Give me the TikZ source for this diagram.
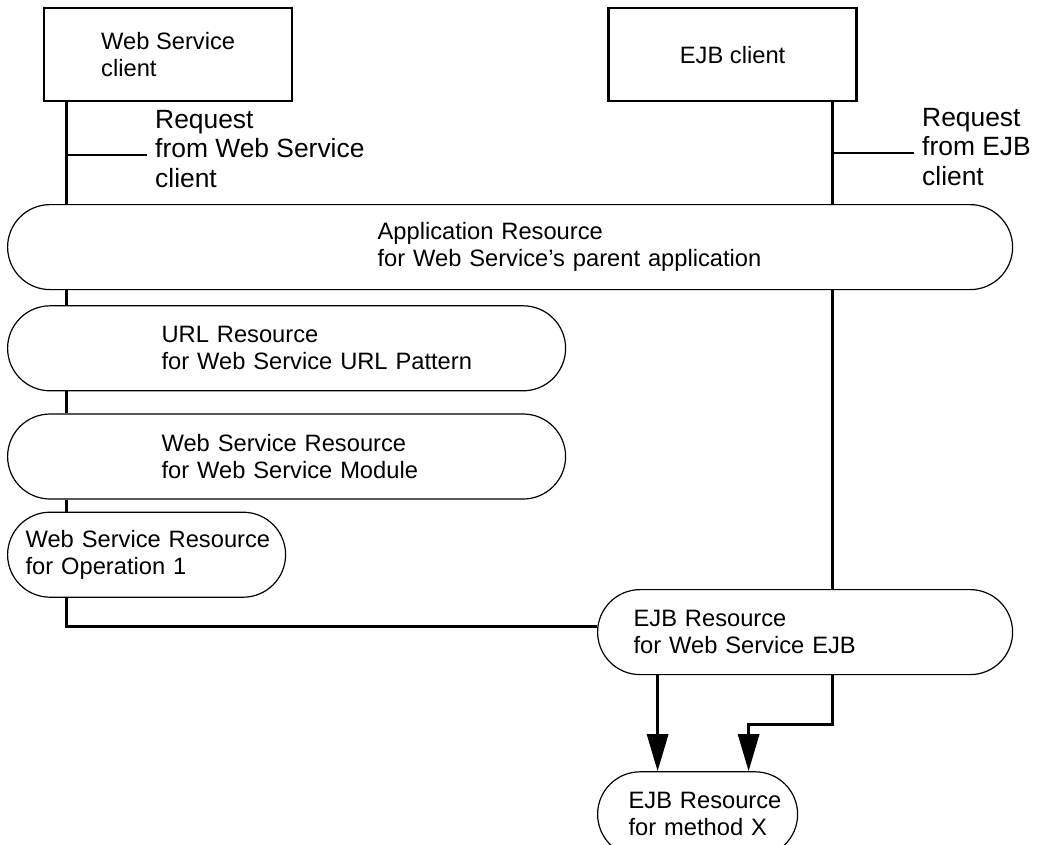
\documentclass[tikz,border=0pt]{standalone}
\usepackage{fontspec}
\setmainfont{Liberation Sans}
\usetikzlibrary{positioning,arrows.meta}

\begin{document}
\begin{tikzpicture}[
    x=1pt, y=-1pt,
    >={Triangle[length=37pt,width=21pt]},
    every node/.style={font=\fontsize{23.7}{27}\selectfont},
    client/.style={
        draw, line width=2.4pt, minimum width=248pt, minimum height=93pt,
        inner sep=0pt, align=left
    },
    resource/.style 2 args={
        draw, line width=1.2pt, fill=white, rounded corners=42.5pt,
        minimum width=#1pt, minimum height=85pt, inner sep=0pt,
        text width=#1pt, align=left,
        execute at begin node={\leftskip=#2pt\relax}
    },
    request/.style={
        anchor=base west, inner xsep=8pt, align=left,
        font=\fontsize{26.4}{29.5}\selectfont
    },
    trunk/.style={line width=3pt},
    tick/.style={line width=2pt},
    arr/.style={->, line width=3pt},
]
\path[use as bounding box, clip] (0,0) rectangle (1040,844);

% === Clients (top row) ===
\node[client, anchor=north west] (wsclient) at (43,7) {Web Service\\client};
\node[client, right=314pt of wsclient] (ejbclient) {EJB client};

\coordinate (wstrunk) at ([xshift=23pt]wsclient.south west);
\coordinate (ejbtrunk) at ([xshift=-25.5pt]ejbclient.south east);

% Request labels (base = last line)
\node[request] (wsreq) at (147,187) {Request\\from Web Service\\client};
\node[request] (ejbreq) at (914,185) {Request\\from EJB\\client};

\coordinate (wsreqtick) at ([yshift=-53pt]wstrunk);
\coordinate (ejbreqtick) at ([yshift=-51pt]ejbtrunk);
\draw[tick] (wsreqtick) -- (wsreqtick -| wsreq.west);
\draw[tick] (ejbreqtick) -- (ejbreqtick -| ejbreq.west);

% === Resources ===
\node[resource={1005}{370}, anchor=north west] (app) at (7,204)
    {Application Resource\\for Web Service’s parent application};
\node[resource={558}{154}, below=15pt of app.south west, anchor=north west] (url)
    {URL Resource\\for Web Service URL Pattern};
\node[resource={558}{154}, below=22pt of url.south west, anchor=north west] (module)
    {Web Service Resource\\for Web Service Module};
\node[resource={278}{18}, below=12pt of module.south west, anchor=north west] (op1)
    {Web Service Resource\\for Operation 1};
\node[resource={415}{36}, anchor=north west] (ejbws) at (597,589)
    {EJB Resource\\for Web Service EJB};
\node[resource={200}{31}, below=96pt of ejbws.south west, anchor=north west] (ejbx)
    {EJB Resource\\for method X};

\coordinate (ejbxleft) at ([xshift=-40pt]ejbx.north);
\coordinate (ejbxright) at ([xshift=51pt]ejbx.north);

% Web Service request path
\draw[trunk] (wstrunk) -- (wstrunk |- app.north);
\draw[trunk] (wstrunk |- app.south) -- (wstrunk |- url.north);
\draw[trunk] (wstrunk |- url.south) -- (wstrunk |- module.north);
\draw[trunk] (wstrunk |- module.south) -- (wstrunk |- op1.north);
\draw[trunk] (wstrunk |- op1.south) |- ([yshift=6pt]ejbws.west);

% EJB request path
\draw[trunk] (ejbtrunk) -- (ejbtrunk |- app.north);
\draw[trunk] (ejbtrunk |- app.south) -- (ejbtrunk |- ejbws.north);

% Both end at method X
\draw[arr] (ejbxleft |- ejbws.south) -- (ejbxleft);
\draw[arr] (ejbtrunk |- ejbws.south) -- ++(0,49) -| (ejbxright);

\end{tikzpicture}
\end{document}
